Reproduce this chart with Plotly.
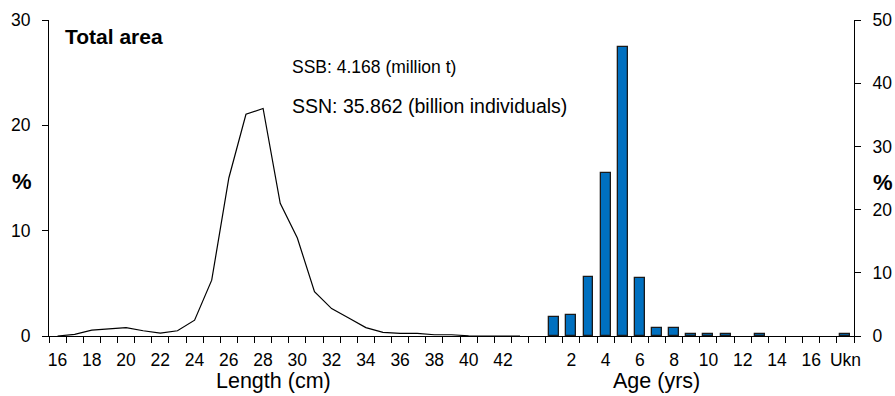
import plotly.graph_objects as go

# Length-frequency distribution (% by 1 cm class)
lengths = list(range(16, 44))
length_pct = [0.0, 0.15, 0.55, 0.7, 0.8, 0.5, 0.28, 0.5, 1.5, 5.3,
              15.0, 21.05, 21.6, 12.6, 9.3, 4.2, 2.6, 1.7, 0.8, 0.35,
              0.25, 0.25, 0.12, 0.12, 0.02, 0.0, 0.0, 0.0]

# Age composition (% by age class, plus unknown)
ages = [str(a) for a in range(1, 18)] + ["Ukn"]
age_pct = [3.05, 3.3, 9.4, 25.8, 45.8, 9.2, 1.3, 1.3, 0.25, 0.25,
           0.25, 0.0, 0.25, 0.0, 0.0, 0.0, 0.0, 0.25]

ssb_text = "SSB: 4.168 (million t)"
ssn_text = "SSN: 35.862 (billion individuals)"

# One shared category axis: length classes, a blank slot, then age classes
categories = [str(v) for v in lengths] + [""] + ages
n_cat = len(categories)
length_x = list(range(len(lengths)))
age_start = len(lengths) + 1
age_x = list(range(age_start, age_start + len(ages)))

label_idx = list(range(0, n_cat, 2))
label_txt = [categories[i] for i in label_idx]
boundaries = [i - 0.5 for i in range(n_cat + 1)]

FONT = "Liberation Sans, Arial, sans-serif"

# plot-area geometry in pixels (used to place free text)
L, R, T, B = 49, 854, 20, 336


def px_x(px):
    return (px - L) / (R - L)


def px_y(py):
    return (B - py) / (B - T)


fig = go.Figure()
fig.add_trace(go.Scatter(
    x=length_x, y=length_pct, mode="lines",
    line=dict(color="black", width=1.2),
    xaxis="x", yaxis="y", showlegend=False, hoverinfo="skip",
))
fig.add_trace(go.Bar(
    x=age_x, y=age_pct, width=0.58,
    marker=dict(color="#0070C0",
                line=dict(color="#1a1a1a",
                          width=[1.3 if v > 0 else 0 for v in age_pct])),
    xaxis="x", yaxis="y2", showlegend=False, hoverinfo="skip",
))

fig.update_layout(
    template=None,
    width=895, height=396,
    margin=dict(l=L, r=895 - R, t=T, b=396 - B, pad=0, autoexpand=False),
    paper_bgcolor="white", plot_bgcolor="white",
    font=dict(family=FONT, size=17, color="black"),
    bargap=0,
    xaxis=dict(
        range=[-0.5, n_cat - 0.5], tickmode="array",
        tickvals=label_idx, ticktext=label_txt, ticks="",
        showline=True, linecolor="black", linewidth=1,
        showgrid=False, zeroline=False, automargin=False,
        tickfont=dict(size=17.5), ticklabelstandoff=8,
        minor=dict(tickmode="array", tickvals=boundaries, ticks="outside",
                   ticklen=6, tickcolor="black", tickwidth=1, showgrid=False),
    ),
    yaxis=dict(
        range=[0, 30], tickmode="array", tickvals=[0, 10, 20, 30],
        ticks="outside", ticklen=6, tickcolor="black",
        showline=True, linecolor="black", linewidth=1,
        showgrid=False, zeroline=False, ticklabelstandoff=8,
        automargin=False, tickfont=dict(size=17.5),
    ),
    yaxis2=dict(
        range=[0, 50], tickmode="array", tickvals=[0, 10, 20, 30, 40, 50],
        ticks="outside", ticklen=6, tickcolor="black",
        showline=True, linecolor="black", linewidth=1,
        showgrid=False, zeroline=False, ticklabelstandoff=8,
        automargin=False, tickfont=dict(size=17.5),
        overlaying="y", side="right",
    ),
)

# Panel label and stock summary
for text, x, y, size in [("<b>Total area</b>", 63, 36, 21),
                         (ssb_text, 290, 67, 17.5),
                         (ssn_text, 290, 106, 19.5)]:
    fig.add_annotation(
        text=text, xref="paper", yref="paper", x=px_x(x), y=px_y(y),
        xanchor="left", yanchor="middle", showarrow=False,
        font=dict(family=FONT, color="black", size=size),
    )

# Axis titles
for text, x, y, size in [("<b>%</b>", 21.5, 181, 22), ("<b>%</b>", 883, 182, 22),
                         ("Length (cm)", 273, 381, 21.5),
                         ("Age (yrs)", 656, 381, 21.5)]:
    fig.add_annotation(
        text=text, xref="paper", yref="paper", x=px_x(x), y=px_y(y),
        xanchor="center", yanchor="middle", showarrow=False,
        font=dict(family=FONT, color="black", size=size),
    )

fig.write_html("out.html")
